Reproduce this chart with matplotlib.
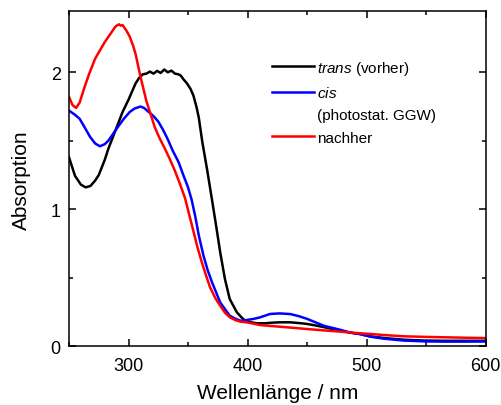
import matplotlib
matplotlib.use("Agg")
import matplotlib.pyplot as plt
from matplotlib.ticker import MultipleLocator
from matplotlib.lines import Line2D

plt.rcParams['font.family'] = ['Liberation Sans', 'DejaVu Sans']
plt.rcParams['mathtext.fontset'] = 'custom'
plt.rcParams['mathtext.it'] = 'Liberation Sans:italic'
plt.rcParams['mathtext.rm'] = 'Liberation Sans'

# UV/Vis spectra: wavelength (nm) and absorbance
wl_trans = [250, 255, 260, 264, 268, 272, 275, 280, 283, 287, 291, 295, 300, 303, 306,
            309, 312, 315, 318, 321, 324, 327, 330, 333, 336, 339, 342, 344, 346, 349,
            352, 354.5, 357, 359, 362, 366, 370, 374, 377, 381, 385, 391, 395, 398, 403,
            408, 415, 420, 427, 436, 445, 450, 457, 464, 470, 478, 486, 494, 503, 515,
            531, 548, 564, 580, 600]
abs_trans = [1.38, 1.245, 1.18, 1.16, 1.17, 1.21, 1.25, 1.36, 1.44, 1.53, 1.62, 1.71, 1.80, 1.86, 1.92,
             1.96, 1.985, 1.99, 2.005, 1.99, 2.01, 1.995, 2.02, 2.00, 2.012, 1.99, 1.985, 1.975, 1.95, 1.92,
             1.88, 1.83, 1.75, 1.67, 1.49, 1.29, 1.075, 0.856, 0.686, 0.49, 0.345, 0.248, 0.21, 0.187, 0.175,
             0.168, 0.168, 0.172, 0.175, 0.175, 0.168, 0.163, 0.152, 0.14, 0.128, 0.114, 0.10, 0.09, 0.073, 0.06,
             0.048, 0.042, 0.04, 0.04, 0.04]

wl_cis = [250, 255, 259, 263, 267.6, 272, 276, 280, 283, 287, 291, 296, 301, 305, 310,
          313, 317, 321, 325, 329, 333, 337, 342, 346, 350, 353, 356, 359, 363, 366.5,
          370, 377, 385, 390, 394, 398, 405, 410, 419, 427, 436, 443, 450, 457, 464,
          471, 478, 486, 494, 503, 515, 531, 548, 564, 580, 600]
abs_cis = [1.72, 1.69, 1.66, 1.60, 1.53, 1.48, 1.46, 1.475, 1.50, 1.55, 1.60, 1.66, 1.71, 1.735, 1.75,
           1.74, 1.71, 1.68, 1.64, 1.58, 1.51, 1.43, 1.345, 1.25, 1.16, 1.07, 0.95, 0.81, 0.66, 0.555,
           0.47, 0.32, 0.223, 0.20, 0.187, 0.19, 0.20, 0.21, 0.236, 0.24, 0.235, 0.22, 0.20, 0.175, 0.15,
           0.135, 0.12, 0.10, 0.09, 0.07, 0.055, 0.042, 0.036, 0.034, 0.034, 0.035]

wl_after = [250, 253, 256, 259, 263, 267, 272, 276, 280, 284, 288.7, 290, 292, 293.5, 295,
            298.5, 301, 304, 306, 308, 310, 312.5, 315, 318, 322, 326, 330.7, 335, 339, 343,
            347.5, 351, 354.5, 358, 361.5, 365, 368.5, 373, 377, 381, 385.3, 390, 394, 399, 405,
            410.5, 420, 427, 438, 450, 464, 478, 494, 503, 515, 531, 548, 564, 580, 600]
abs_after = [1.82, 1.76, 1.74, 1.78, 1.89, 1.99, 2.10, 2.16, 2.22, 2.27, 2.33, 2.34, 2.35, 2.34, 2.345,
             2.30, 2.26, 2.19, 2.13, 2.05, 1.97, 1.88, 1.79, 1.71, 1.60, 1.52, 1.44, 1.36, 1.28, 1.19,
             1.08, 0.96, 0.84, 0.72, 0.615, 0.52, 0.43, 0.35, 0.296, 0.245, 0.21, 0.19, 0.18, 0.175, 0.165,
             0.155, 0.148, 0.143, 0.135, 0.126, 0.116, 0.107, 0.095, 0.09, 0.082, 0.073, 0.069, 0.066, 0.063, 0.06]

fig = plt.figure(figsize=(5.01, 4.06), dpi=100)
ax = fig.add_axes([0.1377, 0.1446, 0.8318, 0.8251])

lw = 1.8
ax.plot(wl_trans, abs_trans, color='black', lw=lw)
ax.plot(wl_cis, abs_cis, color='#0000ff', lw=lw)
ax.plot(wl_after, abs_after, color='#ff0000', lw=lw)

ax.set_xlim(250, 600)
ax.set_ylim(0, 2.445)
ax.xaxis.set_major_locator(MultipleLocator(100))
ax.xaxis.set_minor_locator(MultipleLocator(50))
ax.yaxis.set_major_locator(MultipleLocator(1))
ax.yaxis.set_minor_locator(MultipleLocator(0.5))
ax.tick_params(which='both', direction='in', top=True, right=True, width=1.1,
               labelsize=13)
ax.tick_params(axis='x', which='both', pad=7.5)
ax.tick_params(axis='y', which='both', pad=6)
ax.tick_params(which='major', length=5)
ax.tick_params(which='minor', length=3)
for sp in ax.spines.values():
    sp.set_linewidth(1.1)

ax.set_xlabel('Wellenlänge / nm', fontsize=15, labelpad=6.5)
ax.set_ylabel('Absorption', fontsize=15, labelpad=14)

handles = [Line2D([], [], color='black', lw=lw),
           Line2D([], [], color='#0000ff', lw=lw),
           Line2D([], [], color='none', lw=lw),
           Line2D([], [], color='#ff0000', lw=lw)]
labels = [r'$\it{trans}$ (vorher)', r'$\it{cis}$', '(photostat. GGW)', 'nachher']
ax.legend(handles, labels, loc='upper left', bbox_to_anchor=(0.4865, 0.859),
          frameon=False, fontsize=11, handlelength=2.75, handletextpad=0.22,
          borderpad=0, borderaxespad=0, labelspacing=0.55)

fig.savefig('out.png', dpi=100)
